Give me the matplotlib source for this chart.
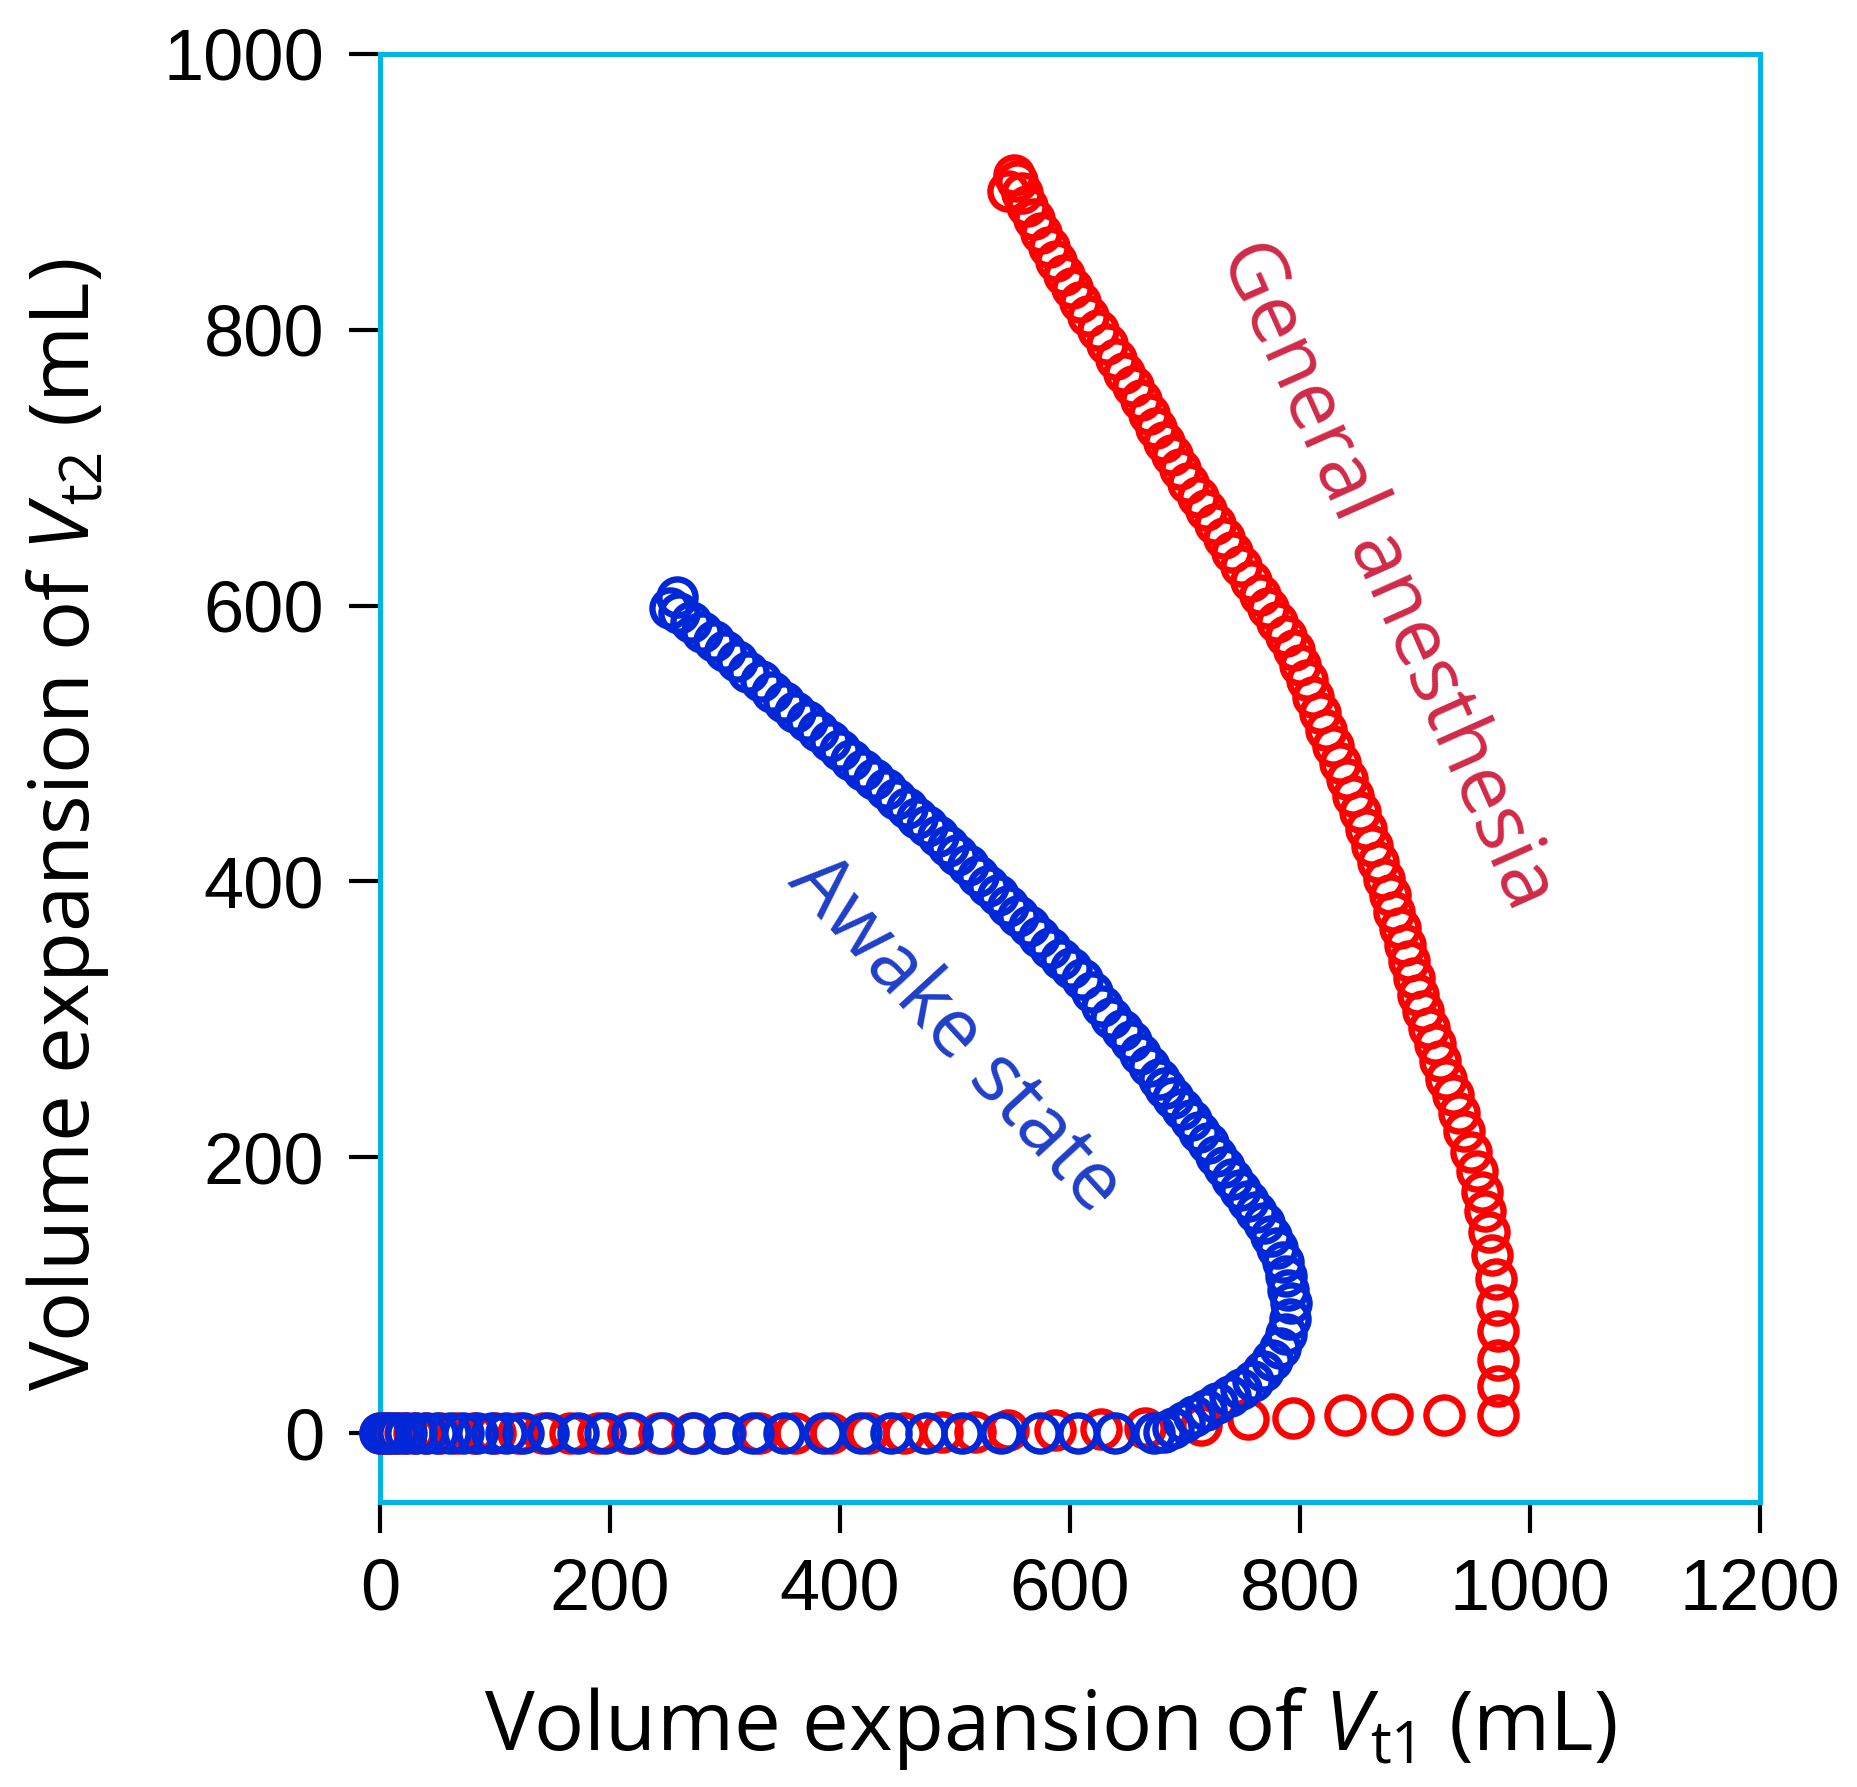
import matplotlib
matplotlib.use("Agg")
import matplotlib.pyplot as plt

# ---------------- data ----------------
awake_x = [0, 5, 10, 16, 23, 31, 40, 50, 61, 72, 84, 97, 110, 124, 146, 172, 196, 219,
           246, 273, 299, 324, 351, 386, 418, 444, 475, 506, 540, 574, 607, 639, 673,
           682, 690, 699, 708, 718, 728, 739, 749, 759, 768, 776, 783, 788, 791, 792,
           790, 788, 785, 780, 775, 769, 762, 755, 748, 741, 734, 727, 720, 712, 705,
           697, 690, 683, 677, 669, 661, 653, 645, 636, 628, 619, 610, 601, 592, 583,
           573, 564, 555, 546, 537, 529, 520, 511, 502, 494, 485, 476, 467, 458, 449,
           440, 430, 420, 410, 400, 391, 381, 371, 361, 351, 341, 331, 320, 310, 300,
           290, 280, 270, 260, 252, 258]
awake_y = [0, 0, 0, 0, 0, 0, 0, 0, 0, 0, 0, 0, 0, 0, 0, 0, 0, 0,
           0, 0, 0, 0, 0, 0, 0, 0, 0, 0, 0, 0, 0, 0, 0,
           1, 4, 8, 12, 17, 22, 27, 32, 38, 45, 53, 62, 72, 83, 94,
           104, 114, 124, 134, 143, 152, 160, 168, 176, 184, 193, 201, 210, 218, 227,
           235, 243, 250, 257, 266, 275, 284, 292, 301, 310, 320, 329, 337, 344, 352,
           360, 368, 375, 382, 390, 397, 404, 412, 419, 426, 433, 440, 446, 453, 460,
           467, 474, 481, 488, 495, 502, 509, 516, 523, 530, 537, 545, 552, 560, 567,
           574, 581, 588, 595, 598, 606]

anesth_x = [0, 4, 9, 15, 22, 30, 40, 52, 66, 82, 100, 120, 142, 165, 190, 216, 243,
            271, 300, 330, 361, 392, 424, 456, 489, 517, 546, 587, 627, 665, 714, 755,
            794, 839, 880, 925,
            972, 972, 972, 972, 971, 970, 967, 964, 961, 958, 954, 949, 943, 938, 933,
            927, 922, 917, 912, 907, 903, 899, 895, 891, 887, 882, 878, 873, 868, 863,
            857, 852, 846, 841, 835, 829, 823, 817, 811, 806, 800, 795, 788, 780, 772,
            765, 757, 749, 741, 734, 726, 718, 711, 703, 696, 689, 682, 675, 669, 662,
            655, 647, 640, 632, 624, 616, 609, 602, 595, 588, 582, 575, 569, 563, 558,
            554, 546, 551]
anesth_y = [0, 0, 0, 0, 0, 0, 0, 0, 0, 0, 0, 0, 0, 0, 0, 0, 0,
            0, 0, 0, 0, 0, 0, 0, 1, 1, 2, 2, 3, 4, 6, 10,
            11, 13, 14, 13,
            13, 34, 53, 74, 93, 112, 129, 146, 161, 175, 190, 204, 219, 232, 245,
            257, 270, 282, 294, 306, 318, 330, 342, 354, 366, 378, 390, 402, 414, 426,
            438, 450, 462, 474, 486, 498, 510, 522, 534, 546, 557, 568, 578, 588, 598,
            608, 618, 629, 639, 649, 659, 669, 679, 689, 699, 709, 719, 729, 739, 749,
            759, 769, 779, 790, 800, 810, 820, 830, 840, 850, 860, 870, 880, 890, 899,
            908, 901, 912]

x_ticks = [0, 200, 400, 600, 800, 1000, 1200]
y_ticks = [0, 200, 400, 600, 800, 1000]

# ---------------- styling ----------------
plt.rcParams['font.family'] = ['Liberation Sans', 'DejaVu Sans']
plt.rcParams['mathtext.fontset'] = 'custom'
plt.rcParams['mathtext.rm'] = 'Open Sans'
plt.rcParams['mathtext.it'] = 'Open Sans:italic'

W, H = 1858, 1787
fig = plt.figure(figsize=(W / 100, H / 100), dpi=100)
ax = fig.add_axes([380 / W, 1 - 1502 / H, (1760 - 380) / W, (1502 - 54) / H])

ms, mew = 26, 4.6
ax.plot(anesth_x, anesth_y, linestyle='none', marker='o', markersize=ms,
        markerfacecolor='none', markeredgecolor='#FF0000', markeredgewidth=mew,
        clip_on=False, zorder=3)
ax.plot(awake_x, awake_y, linestyle='none', marker='o', markersize=ms,
        markerfacecolor='none', markeredgecolor='#0028D8', markeredgewidth=mew,
        clip_on=False, zorder=4)

ax.set_xlim(0, 1200)
ax.set_ylim(-50, 1000)
ax.set_xticks(x_ticks)
ax.set_yticks(y_ticks)
ax.tick_params(axis='both', direction='out', length=22, width=3, color='black',
               labelsize=52, pad=18, top=False, right=False)

for s in ax.spines.values():
    s.set_color('#00B4E8')
    s.set_linewidth(3.6)

# annotations
ax.text(500, 289, 'Awake state', color='#1F3FC8', fontsize=58, family='Open Sans',
        rotation=-47.5, rotation_mode='anchor', ha='center', va='center')
ax.text(875, 622, 'General anesthesia', color='#D02A48', fontsize=58, family='Open Sans',
        rotation=-66, rotation_mode='anchor', ha='center', va='center')

# axis titles
fig.text(1050 / W, 1 - 1750 / H, r'Volume expansion of $\mathit{V}_{\mathrm{t1}}$ (mL)',
         fontsize=60, family='Open Sans', ha='center', va='baseline')
fig.text(89 / W, 1 - 825 / H, r'Volume expansion of $\mathit{V}_{\mathrm{t2}}$ (mL)',
         fontsize=60, family='Open Sans', ha='center', va='baseline',
         rotation=90, rotation_mode='anchor')

fig.savefig('out.png', dpi=100)
